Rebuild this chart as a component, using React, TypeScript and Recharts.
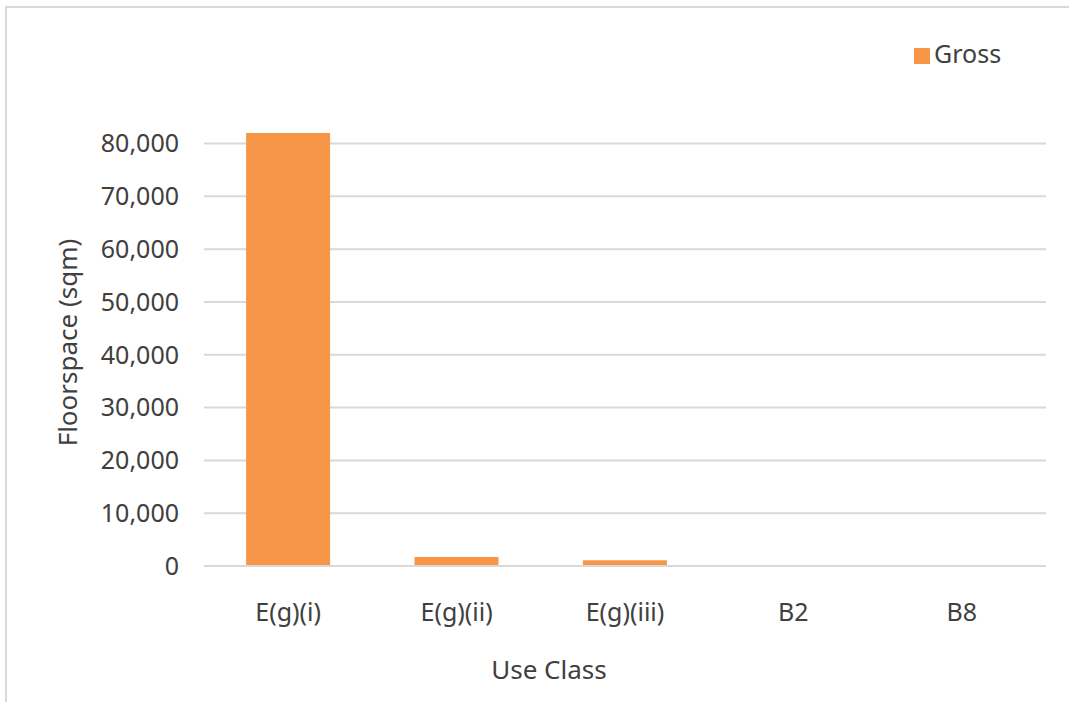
import { Bar, BarChart, CartesianGrid, Legend, Text, XAxis, YAxis } from "recharts"

// Gross floorspace by use class (sqm)
const useClasses = ["E(g)(i)", "E(g)(ii)", "E(g)(iii)", "B2", "B8"]
const grossFloorspace = [82000, 1700, 1100, 0, 0]
const yTicks = [0, 10000, 20000, 30000, 40000, 50000, 60000, 70000, 80000]

const data = useClasses.map((name, i) => ({ name, gross: grossFloorspace[i] }))

const FONT = "'Noto Sans', sans-serif"
const TEXT = "#404040"
const GRID = "#d9d9d9"
const ORANGE = "#f79646"

const fmt = (v: number) => v.toLocaleString("en-US")

function XTitle(props: any) {
  const vb = props.viewBox || {}
  return (
    <Text
      x={vb.x + vb.width / 2 - 76}
      y={vb.y + 104}
      textAnchor="middle"
      verticalAnchor="middle"
      fontSize={26}
      fill={TEXT}
      fontFamily={FONT}
    >
      Use Class
    </Text>
  )
}

function YTitle(props: any) {
  const vb = props.viewBox || {}
  return (
    <Text
      x={vb.x + 28}
      y={vb.y + vb.height / 2 - 7}
      angle={-90}
      textAnchor="middle"
      verticalAnchor="middle"
      fontSize={26}
      fill={TEXT}
      fontFamily={FONT}
    >
      Floorspace (sqm)
    </Text>
  )
}

export default function App() {
  return (
    <div style={{ position: "relative", width: 1069, height: 702, overflow: "hidden", background: "#fff", fontFamily: FONT }}>
      <style>{`body { margin: 0; }`}</style>
      {/* chart frame, only top and left edges fall inside the view */}
      <div
        style={{
          position: "absolute",
          left: 5,
          top: 6,
          right: -20,
          bottom: -20,
          border: `2px solid ${GRID}`,
          pointerEvents: "none",
        }}
      />
      <BarChart
        width={1069}
        height={702}
        data={data}
        margin={{ top: 133, right: 23, bottom: 76, left: 40 }}
        barCategoryGap="25%"
      >
        <CartesianGrid vertical={false} horizontalValues={yTicks} stroke={GRID} strokeWidth={2} />
        <XAxis
          dataKey="name"
          height={60}
          axisLine={{ stroke: GRID, strokeWidth: 2 }}
          tickLine={false}
          tickSize={0}
          tickMargin={37}
          tick={{ fill: TEXT, fontSize: 25, fontFamily: FONT }}
          interval={0}
          label={XTitle}
        />
        <YAxis
          width={164}
          domain={[0, 82000]}
          ticks={yTicks}
          allowDataOverflow
          axisLine={false}
          tickLine={false}
          tickSize={0}
          tickMargin={25}
          tickFormatter={fmt}
          tick={{ fill: TEXT, fontSize: 25, fontFamily: FONT }}
          label={YTitle}
        />
        <Legend
          layout="vertical"
          align="center"
          verticalAlign="middle"
          iconType="square"
          iconSize={16}
          wrapperStyle={{ left: 914, top: 36, width: "auto", fontSize: 25, fontFamily: FONT }}
          formatter={(value) => <span style={{ color: TEXT }}>{value}</span>}
        />
        <Bar dataKey="gross" name="Gross" fill={ORANGE} isAnimationActive={false} />
      </BarChart>
    </div>
  )
}
